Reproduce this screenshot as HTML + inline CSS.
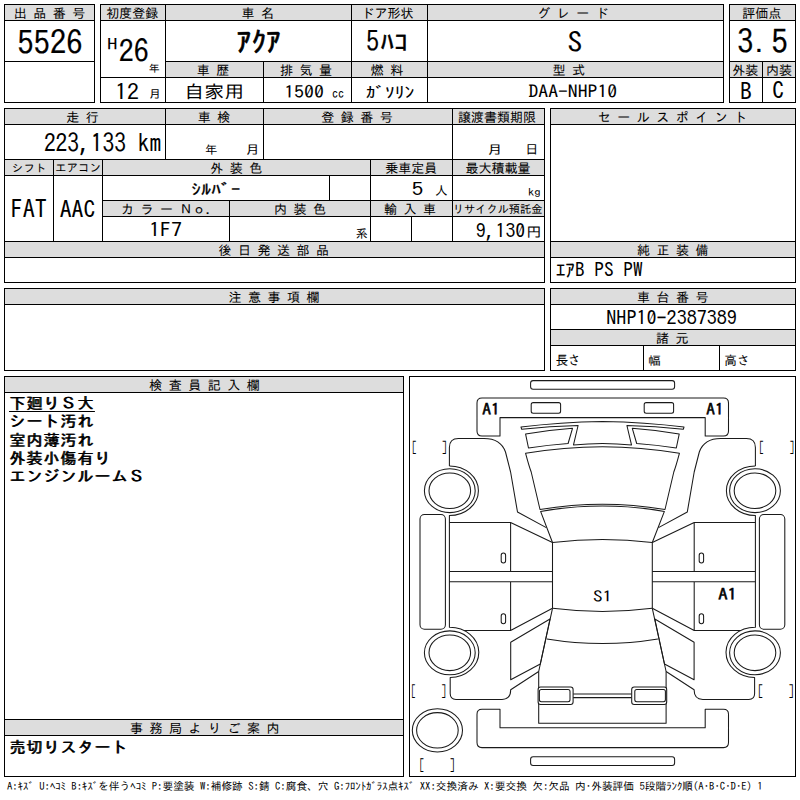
<!DOCTYPE html>
<html lang="ja">
<head>
<meta charset="utf-8">
<title>出品票</title>
<style>
html,body{margin:0;padding:0;background:#fff;}
body{width:800px;height:800px;overflow:hidden;position:relative;color:#000;
 font-family:"IPAGothic","Liberation Mono","Noto Sans CJK JP",monospace;}
svg{position:absolute;left:0;top:0;}
#txt text{font-family:"IPAGothic","Liberation Mono","Noto Sans CJK JP",monospace;fill:#000;white-space:pre;}
.m{position:absolute;left:9px;white-space:pre;font-size:16px;line-height:18px;letter-spacing:1px;text-shadow:0.9px 0 0 #000;}
.m u{text-underline-offset:2px;text-decoration-thickness:1px;}
.f{position:absolute;left:7px;top:779.5px;font-size:10.73px;line-height:13px;white-space:pre;}
</style>
</head>
<body>
<svg id="grid" width="800" height="800" viewBox="0 0 800 800" shape-rendering="crispEdges">
<g fill="#dddddd">
<rect x="5" y="5" width="89" height="15"/>
<rect x="101" y="5" width="622" height="15"/>
<rect x="166" y="62" width="557" height="15"/>
<rect x="730" y="5" width="65" height="15"/>
<rect x="730" y="62" width="65" height="15"/>
<rect x="5" y="109" width="539" height="15"/>
<rect x="5" y="160" width="539" height="15"/>
<rect x="103" y="201" width="441" height="15"/>
<rect x="5" y="242" width="539" height="15"/>
<rect x="551" y="109" width="244" height="15"/>
<rect x="551" y="242" width="244" height="15"/>
<rect x="5" y="289" width="539" height="15"/>
<rect x="551" y="289" width="244" height="15"/>
<rect x="551" y="330" width="244" height="15"/>
<rect x="5" y="377" width="398" height="15"/>
<rect x="5" y="720" width="398" height="15"/>
</g>
<g fill="#000">
<rect x="4" y="4" width="91" height="1"/>
<rect x="4" y="102" width="91" height="1"/>
<rect x="4" y="4" width="1" height="99"/>
<rect x="94" y="4" width="1" height="99"/>
<rect x="4" y="20" width="91" height="1"/>
<rect x="4" y="61" width="91" height="1"/>
<rect x="100" y="4" width="624" height="1"/>
<rect x="100" y="102" width="624" height="1"/>
<rect x="100" y="4" width="1" height="99"/>
<rect x="723" y="4" width="1" height="99"/>
<rect x="100" y="20" width="624" height="1"/>
<rect x="165" y="61" width="559" height="1"/>
<rect x="100" y="77" width="624" height="1"/>
<rect x="165" y="4" width="1" height="99"/>
<rect x="263" y="61" width="1" height="42"/>
<rect x="351" y="4" width="1" height="99"/>
<rect x="427" y="4" width="1" height="99"/>
<rect x="729" y="4" width="67" height="1"/>
<rect x="729" y="102" width="67" height="1"/>
<rect x="729" y="4" width="1" height="99"/>
<rect x="795" y="4" width="1" height="99"/>
<rect x="729" y="20" width="67" height="1"/>
<rect x="729" y="61" width="67" height="1"/>
<rect x="729" y="77" width="67" height="1"/>
<rect x="762" y="61" width="1" height="42"/>
<rect x="4" y="108" width="541" height="1"/>
<rect x="4" y="282" width="541" height="1"/>
<rect x="4" y="108" width="1" height="175"/>
<rect x="544" y="108" width="1" height="175"/>
<rect x="4" y="124" width="541" height="1"/>
<rect x="4" y="159" width="541" height="1"/>
<rect x="4" y="175" width="541" height="1"/>
<rect x="165" y="108" width="1" height="52"/>
<rect x="263" y="108" width="1" height="52"/>
<rect x="452" y="108" width="1" height="134"/>
<rect x="53" y="159" width="1" height="83"/>
<rect x="102" y="159" width="1" height="83"/>
<rect x="102" y="200" width="443" height="1"/>
<rect x="102" y="216" width="443" height="1"/>
<rect x="329" y="175" width="1" height="26"/>
<rect x="370" y="159" width="1" height="83"/>
<rect x="229" y="200" width="1" height="42"/>
<rect x="411" y="216" width="1" height="26"/>
<rect x="4" y="241" width="541" height="1"/>
<rect x="4" y="257" width="541" height="1"/>
<rect x="550" y="108" width="246" height="1"/>
<rect x="550" y="282" width="246" height="1"/>
<rect x="550" y="108" width="1" height="175"/>
<rect x="795" y="108" width="1" height="175"/>
<rect x="550" y="124" width="246" height="1"/>
<rect x="550" y="241" width="246" height="1"/>
<rect x="550" y="257" width="246" height="1"/>
<rect x="4" y="288" width="541" height="1"/>
<rect x="4" y="370" width="541" height="1"/>
<rect x="4" y="288" width="1" height="83"/>
<rect x="544" y="288" width="1" height="83"/>
<rect x="4" y="304" width="541" height="1"/>
<rect x="550" y="288" width="246" height="1"/>
<rect x="550" y="370" width="246" height="1"/>
<rect x="550" y="288" width="1" height="83"/>
<rect x="795" y="288" width="1" height="83"/>
<rect x="550" y="304" width="246" height="1"/>
<rect x="550" y="329" width="246" height="1"/>
<rect x="550" y="345" width="246" height="1"/>
<rect x="643" y="345" width="1" height="26"/>
<rect x="719" y="345" width="1" height="26"/>
<rect x="4" y="376" width="400" height="1"/>
<rect x="4" y="776" width="400" height="1"/>
<rect x="4" y="376" width="1" height="401"/>
<rect x="403" y="376" width="1" height="401"/>
<rect x="4" y="392" width="400" height="1"/>
<rect x="4" y="719" width="400" height="1"/>
<rect x="4" y="735" width="400" height="1"/>
<rect x="409" y="376" width="387" height="1"/>
<rect x="409" y="776" width="387" height="1"/>
<rect x="409" y="376" width="1" height="401"/>
<rect x="795" y="376" width="1" height="401"/>
</g>
</svg>
<svg id="txt" width="800" height="800" viewBox="0 0 800 800">
<text x="49.40" y="17.69" font-size="13.00" text-anchor="middle" stroke="#000" stroke-width="0.05">出 品 番 号</text>
<text x="132.25" y="17.69" font-size="13.00" text-anchor="middle" stroke="#000" stroke-width="0.05">初度登録</text>
<text x="257.75" y="17.69" font-size="13.00" text-anchor="middle" stroke="#000" stroke-width="0.05">車 名</text>
<text x="387.60" y="17.69" font-size="13.00" text-anchor="middle" stroke="#000" stroke-width="0.05">ドア形状</text>
<text x="573.00" y="17.69" font-size="13.00" text-anchor="middle" stroke="#000" stroke-width="0.05">グ レ ー ド</text>
<text x="761.80" y="17.69" font-size="13.00" text-anchor="middle" stroke="#000" stroke-width="0.05">評価点</text>
<text x="213.00" y="74.69" font-size="13.00" text-anchor="middle" stroke="#000" stroke-width="0.05">車 歴</text>
<text x="305.90" y="74.69" font-size="13.00" text-anchor="middle" stroke="#000" stroke-width="0.05">排 気 量</text>
<text x="386.90" y="74.69" font-size="13.00" text-anchor="middle" stroke="#000" stroke-width="0.05">燃 料</text>
<text x="568.75" y="74.69" font-size="13.00" text-anchor="middle" stroke="#000" stroke-width="0.05">型 式</text>
<text x="745.25" y="74.69" font-size="13.00" text-anchor="middle" stroke="#000" stroke-width="0.05">外装</text>
<text x="779.10" y="74.69" font-size="13.00" text-anchor="middle" stroke="#000" stroke-width="0.05">内装</text>
<text x="82.50" y="121.84" font-size="13.00" text-anchor="middle" stroke="#000" stroke-width="0.05">走 行</text>
<text x="214.10" y="121.84" font-size="13.00" text-anchor="middle" stroke="#000" stroke-width="0.05">車 検</text>
<text x="357.00" y="121.84" font-size="13.00" text-anchor="middle" stroke="#000" stroke-width="0.05">登 録 番 号</text>
<text x="497.10" y="121.84" font-size="13.00" text-anchor="middle" stroke="#000" stroke-width="0.05">譲渡書類期限</text>
<text x="672.50" y="121.84" font-size="13.00" text-anchor="middle" stroke="#000" stroke-width="0.05">セ ー ル ス ポ イ ン ト</text>
<text transform="translate(11.87 172.18) scale(1.079 1)" font-size="10.74" stroke="#000" stroke-width="0.04">シフト</text>
<text transform="translate(55.05 172.15) scale(0.981 1)" font-size="11.76" stroke="#000" stroke-width="0.04">エアコン</text>
<text x="236.20" y="172.64" font-size="13.00" text-anchor="middle" stroke="#000" stroke-width="0.05">外 装 色</text>
<text x="411.25" y="172.64" font-size="13.00" text-anchor="middle" stroke="#000" stroke-width="0.05">乗車定員</text>
<text x="497.90" y="172.64" font-size="13.00" text-anchor="middle" stroke="#000" stroke-width="0.05">最大積載量</text>
<text x="121.00" y="213.69" font-size="13.00" stroke="#000" stroke-width="0.05">カ ラ ー Ｎｏ．</text>
<text x="300.00" y="213.69" font-size="13.00" text-anchor="middle" stroke="#000" stroke-width="0.05">内 装 色</text>
<text x="410.00" y="213.69" font-size="13.00" text-anchor="middle" stroke="#000" stroke-width="0.05">輸 入 車</text>
<text transform="translate(452.67 213.41) scale(1.024 1)" font-size="10.99" stroke="#000" stroke-width="0.04">リサイクル預託金</text>
<text x="273.75" y="254.69" font-size="13.00" text-anchor="middle" stroke="#000" stroke-width="0.05">後 日 発 送 部 品</text>
<text x="672.80" y="254.69" font-size="13.00" text-anchor="middle" stroke="#000" stroke-width="0.05">純 正 装 備</text>
<text x="274.10" y="301.69" font-size="13.00" text-anchor="middle" stroke="#000" stroke-width="0.05">注 意 事 項 欄</text>
<text x="672.80" y="301.69" font-size="13.00" text-anchor="middle" stroke="#000" stroke-width="0.05">車 台 番 号</text>
<text x="672.20" y="342.69" font-size="13.00" text-anchor="middle" stroke="#000" stroke-width="0.05">諸 元</text>
<text x="204.40" y="389.69" font-size="13.00" text-anchor="middle" stroke="#000" stroke-width="0.05">検 査 員 記 入 欄</text>
<text x="204.75" y="732.69" font-size="13.00" text-anchor="middle" stroke="#000" stroke-width="0.05">事 務 局 よ り ご 案 内</text>
<text transform="translate(17.32 54.52) scale(1.011 1)" font-size="32.23" stroke="#000" stroke-width="0.22">5526</text>
<text transform="translate(106.94 50.09) scale(1.328 1)" font-size="15.86" stroke="#000" stroke-width="0.04">H</text>
<text transform="translate(118.65 63.22) scale(0.982 1)" font-size="30.54" stroke="#000" stroke-width="0.19">26</text>
<text transform="translate(148.74 72.34) scale(1.067 1)" font-size="10.17" stroke="#000" stroke-width="0.04">年</text>
<text transform="translate(114.95 99.62) scale(1.122 1)" font-size="21.32" stroke="#000" stroke-width="0.04">12</text>
<text transform="translate(148.78 97.76) scale(1.095 1)" font-size="11.29" stroke="#000" stroke-width="0.04">月</text>
<text transform="translate(236.72 52.41) scale(1.040 1)" font-size="28.48" stroke="#000" stroke-width="0.6">ｱｸｱ</text>
<text transform="translate(365.89 51.14) scale(0.938 1)" font-size="27.92" stroke="#000" stroke-width="0.14">5</text>
<text transform="translate(380.37 50.57) scale(1.060 1)" font-size="25.56" stroke="#000" stroke-width="0.39">ﾊｺ</text>
<text transform="translate(567.62 51.88) scale(1.073 1)" font-size="27.50" stroke="#000" stroke-width="0.13">S</text>
<text transform="translate(737.21 53.53) scale(0.985 1)" font-size="32.64" stroke="#000" stroke-width="0.23">3</text>
<text transform="translate(755.14 52.48) scale(0.964 1)" font-size="23.70" stroke="#000" stroke-width="0.054">.</text>
<text transform="translate(771.35 53.55) scale(0.995 1)" font-size="33.26" stroke="#000" stroke-width="0.25">5</text>
<text transform="translate(184.29 98.49) scale(1.144 1)" font-size="17.51" stroke="#000" stroke-width="0.04">自家用</text>
<text transform="translate(284.17 97.81) scale(1.167 1)" font-size="17.03" stroke="#000" stroke-width="0.04">1500</text>
<text transform="translate(331.96 97.68) scale(0.962 1)" font-size="12.82" stroke="#000" stroke-width="0.04">cc</text>
<text transform="translate(365.67 97.76) scale(1.234 1)" font-size="15.74" stroke="#000" stroke-width="0.05">ｶﾞｿﾘﾝ</text>
<text transform="translate(528.46 98.20) scale(1.095 1)" font-size="18.00" stroke="#000" stroke-width="0.04">DAA-NHP10</text>
<text transform="translate(739.95 99.71) scale(0.988 1)" font-size="24.14" stroke="#000" stroke-width="0.063">B</text>
<text transform="translate(772.34 99.19) scale(1.036 1)" font-size="22.84" stroke="#000" stroke-width="0.04">C</text>
<text transform="translate(43.88 152.32) scale(0.922 1)" font-size="25.49" stroke="#000" stroke-width="0.09">223,133 km</text>
<text transform="translate(205.10 153.99) scale(1.060 1)" font-size="11.62" stroke="#000" stroke-width="0.04">年</text>
<text transform="translate(245.56 153.94) scale(1.162 1)" font-size="12.24" stroke="#000" stroke-width="0.04">月</text>
<text transform="translate(487.19 153.94) scale(1.253 1)" font-size="12.24" stroke="#000" stroke-width="0.04">月</text>
<text x="525.35" y="154.21" font-size="13.08" stroke="#000" stroke-width="0.04">日</text>
<text transform="translate(191.31 194.64) scale(1.240 1)" font-size="15.89" stroke="#000" stroke-width="0.25">ｼﾙﾊﾞｰ</text>
<text transform="translate(411.51 195.85) scale(1.303 1)" font-size="18.19" stroke="#000" stroke-width="0.04">5</text>
<text transform="translate(434.88 195.44) scale(1.030 1)" font-size="12.25" stroke="#000" stroke-width="0.04">人</text>
<text transform="translate(528.00 195.78) scale(1.178 1)" font-size="10.77" stroke="#000" stroke-width="0.04">kg</text>
<text transform="translate(10.63 218.08) scale(0.948 1)" font-size="25.50" stroke="#000" stroke-width="0.09">FAT</text>
<text transform="translate(59.72 217.52) scale(0.985 1)" font-size="24.12" stroke="#000" stroke-width="0.062">AAC</text>
<text transform="translate(148.90 237.04) scale(1.121 1)" font-size="19.79" stroke="#000" stroke-width="0.04">1F7</text>
<text transform="translate(355.47 237.70) scale(1.012 1)" font-size="12.13" stroke="#000" stroke-width="0.04">系</text>
<text transform="translate(475.71 237.58) scale(1.026 1)" font-size="19.32" stroke="#000" stroke-width="0.04">9,130</text>
<text transform="translate(526.36 237.02) scale(1.090 1)" font-size="14.10" stroke="#000" stroke-width="0.04">円</text>
<text transform="translate(555.68 276.76) scale(1.010 1)" font-size="19.14" stroke="#000" stroke-width="0.04">ｴｱB PS PW</text>
<text transform="translate(606.29 325.09) scale(1.013 1)" font-size="19.86" stroke="#000" stroke-width="0.04">NHP10-2387389</text>
<text transform="translate(555.72 365.12) scale(0.947 1)" font-size="13.10" stroke="#000" stroke-width="0.04">長さ</text>
<text transform="translate(648.19 364.78) scale(1.055 1)" font-size="11.78" stroke="#000" stroke-width="0.04">幅</text>
<text x="724.25" y="365.21" font-size="12.67" stroke="#000" stroke-width="0.04">高さ</text>
<text transform="translate(482.15 414.89) scale(1.102 1)" font-size="15.86" stroke="#000" stroke-width="0.5">A1</text>
<text transform="translate(706.36 414.89) scale(1.086 1)" font-size="15.86" stroke="#000" stroke-width="0.5">A1</text>
<text transform="translate(718.13 600.00) scale(1.163 1)" font-size="16.00" stroke="#000" stroke-width="0.5">A1</text>
<text transform="translate(593.09 601.51) scale(1.244 1)" font-size="15.34" stroke="#000" stroke-width="0.04">S1</text>
<text transform="translate(411.77 453.37) scale(0.666 1)" font-size="14.78" stroke="#000" stroke-width="0.04">[</text>
<text transform="translate(441.75 453.37) scale(0.720 1)" font-size="14.78" stroke="#000" stroke-width="0.04">]</text>
<text transform="translate(759.04 453.37) scale(0.655 1)" font-size="14.78" stroke="#000" stroke-width="0.04">[</text>
<text transform="translate(789.56 453.37) scale(0.666 1)" font-size="14.78" stroke="#000" stroke-width="0.04">]</text>
<text transform="translate(410.97 697.07) scale(0.608 1)" font-size="15.39" stroke="#000" stroke-width="0.04">[</text>
<text transform="translate(441.19 697.07) scale(0.660 1)" font-size="15.39" stroke="#000" stroke-width="0.04">]</text>
<text transform="translate(757.66 697.07) scale(0.702 1)" font-size="15.39" stroke="#000" stroke-width="0.04">[</text>
<text transform="translate(788.42 697.07) scale(0.713 1)" font-size="15.39" stroke="#000" stroke-width="0.04">]</text>
<text transform="translate(419.27 770.61) scale(0.632 1)" font-size="15.56" stroke="#000" stroke-width="0.04">[</text>
<text transform="translate(449.87 770.61) scale(0.664 1)" font-size="15.56" stroke="#000" stroke-width="0.04">]</text>
</svg>
<div class="m" style="top:393.5px"><u>下廻りＳ大</u></div>
<div class="m" style="top:412px">シート汚れ</div>
<div class="m" style="top:430.5px">室内薄汚れ</div>
<div class="m" style="top:448.5px">外装小傷有り</div>
<div class="m" style="top:466.5px">エンジンルームＳ</div>
<div class="m" style="top:737.5px">売切りスタート</div>
<div class="f">A:ｷｽﾞ U:ﾍｺﾐ B:ｷｽﾞを伴うﾍｺﾐ P:要塗装 W:補修跡 S:錆 C:腐食、穴 G:ﾌﾛﾝﾄｶﾞﾗｽ点ｷｽﾞ XX:交換済み X:要交換 欠:欠品 内･外装評価 5段階ﾗﾝｸ順(A･B･C･D･E) 1</div>
<svg id="car" width="800" height="800" viewBox="0 0 800 800" fill="none" stroke="#1a1a1a" stroke-width="1.05" stroke-linejoin="round">
<!-- bars -->
<rect x="530.6" y="380.6" width="144" height="8.7" rx="2.5"/>
<rect x="530.6" y="756.7" width="144" height="8.8" rx="2.5"/>
<!-- bumpers -->
<path d="M482 398H723.5Q728.5 398 728.5 403V431Q728.5 436 723.5 436H705.2V417.6H500V436H482Q477 436 477 431V403Q477 398 482 398Z"/>
<path d="M482 709.3H500V727.8H705.2V709.3H723.5Q728.5 709.3 728.5 714.3V742.6Q728.5 747.6 723.5 747.6H482Q477 747.6 477 742.6V714.3Q477 709.3 482 709.3Z"/>
<!-- grille -->
<path d="M521 427Q560 422 602.5 421.4Q645 422 684 427L683.3 429.3Q655 426.3 626.9 425.5L631.5 444.9Q617 443.4 602.5 443.4Q588 443.4 573.5 444.9L578.1 425.5Q550 426.3 521.7 429.3Z"/>
<!-- hood + windshield + roof + rear glass + tailgate -->
<path d="M525.6 453.3Q564 447 602.5 446.8Q641 447 679.4 453.3Q676 466 673.8 472L665 509.5Q633 504.3 602.5 504.3Q572 504.3 540 509.5L531.2 472Q529 466 525.6 453.3Z"/>
<path d="M540.6 511.4Q571 506 602.5 506Q634 506 664.4 511.4L652.3 542.5Q627 539.5 602.5 539.5Q578 539.5 552.5 542.5Z"/>
<path d="M552.5 542.5V608.3M652.3 542.5V608.3"/>
<path d="M552.5 608.3Q578 611.5 602.5 611.5Q627 611.5 652.3 608.3"/>
<path d="M546.9 638.9Q575 643.5 602.5 643.5Q630 643.5 657.9 638.9"/>
<path d="M552.5 608.3L538.7 671.5V723.3H666.1V671.5L652.3 608.3"/>
<path d="M573.1 694H631.7M573.1 697.6H631.7"/>
<g id="half">
<!-- headlight -->
<rect x="531.2" y="402.6" width="29.4" height="10.7" rx="2"/>
<path d="M525.6 434.1Q549 430 572.5 428.3L568.1 443.5Q548 445 528.5 448Z"/>
<!-- fender -->
<path d="M449.4 465.9V447.5Q449.4 438.5 458.4 438.5H484C495 438.5 502.5 443.5 505.5 452L510.6 472L517.5 512L546.3 527.6"/>
<path d="M449.4 465.9A29 24.8 0 0 1 449.4 515.5V627.3A29 25.1 0 0 1 450.2 677.5V693.5Q450.2 699.4 456 699.4H502Q510.7 699.4 510.7 689.8L538.7 671.5"/>
<!-- doors -->
<path d="M449.4 522.5H510.6L552.5 542.5M510.6 522.5V571.4M449.4 571.4H552.5M449.4 581.8H552.5M510.6 581.8V630.5M464 630.5H510.6L552.5 608.3"/>
<rect x="501.2" y="553" width="4.4" height="10" rx="2.2"/>
<rect x="501.2" y="613.7" width="4.4" height="10" rx="2.2"/>
<!-- quarter window -->
<path d="M510.7 642.3L550 619L540.3 664L510.7 679.8Z"/>
<!-- tail lamp -->
<rect x="538.1" y="686.9" width="35" height="17.6" rx="2.5" fill="#fff"/>
<rect x="539.4" y="689.5" width="30.6" height="12.2" rx="2" fill="#fff"/>
<!-- sill -->
<rect x="420" y="514.5" width="25.4" height="114.8" rx="4.5"/>
<!-- wheels -->
<ellipse cx="449.8" cy="490.7" rx="25.4" ry="21.9"/>
<ellipse cx="449.8" cy="490.7" rx="20.8" ry="17.8"/>
<ellipse cx="449.8" cy="652.8" rx="25.4" ry="21.9"/>
<ellipse cx="449.8" cy="652.8" rx="20.8" ry="17.8"/>
</g>
<use href="#half" transform="translate(1204.8 0) scale(-1 1)"/>
<!-- spare -->
<ellipse cx="437.4" cy="730.3" rx="25.1" ry="21.6"/>
<ellipse cx="437.4" cy="730.3" rx="20.8" ry="17.7"/>

</svg>
</body>
</html>
